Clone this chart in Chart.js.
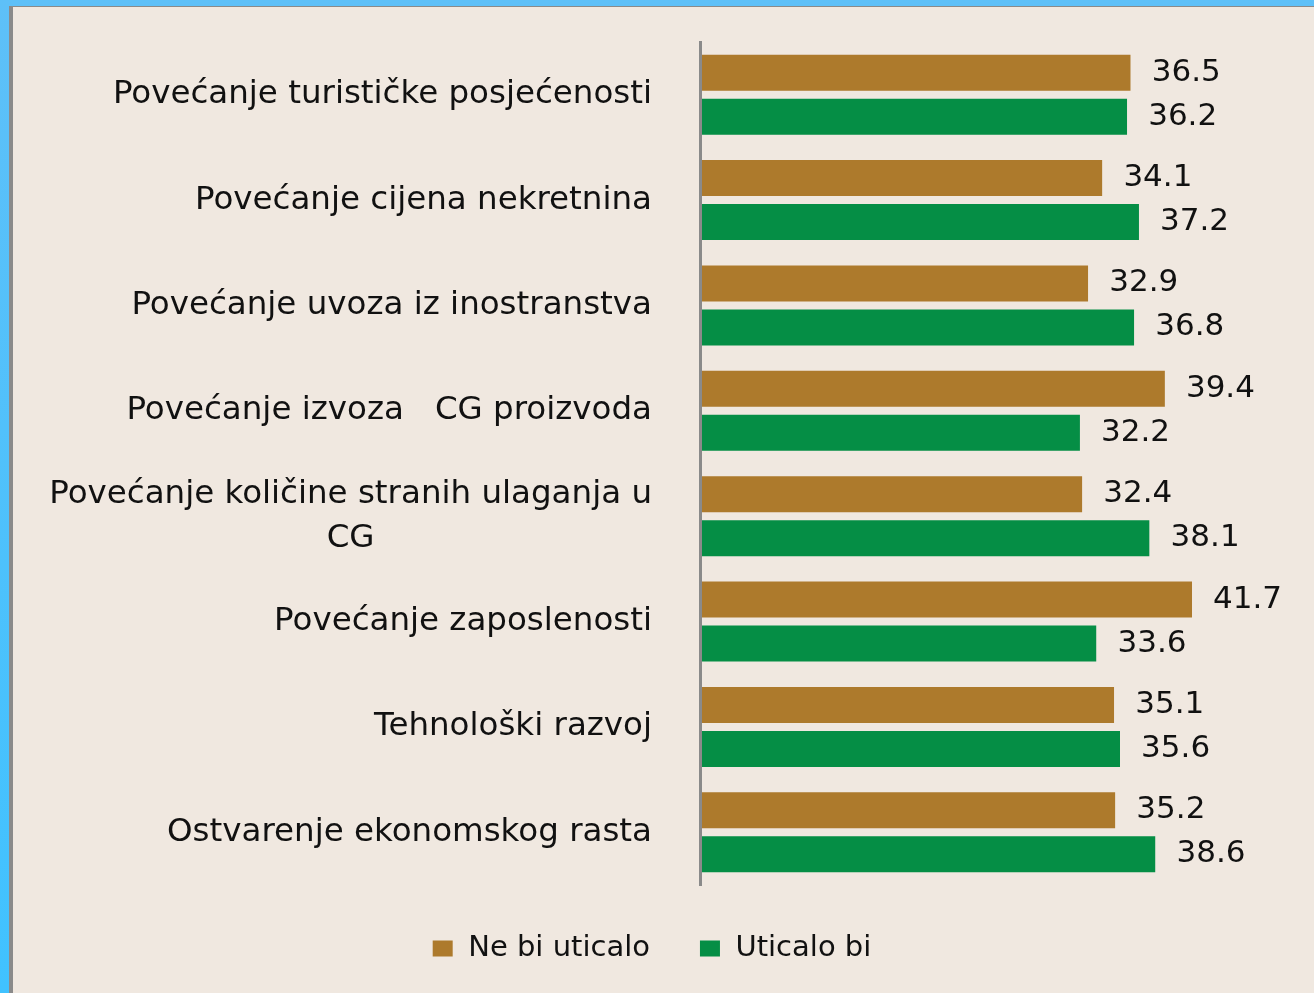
<!DOCTYPE html>
<html>
<head>
<meta charset="utf-8">
<script src="https://cdn.jsdelivr.net/npm/chart.js@4.4.1/dist/chart.umd.min.js"></script>
<style>
  html, body { margin: 0; padding: 0; }
  body {
    width: 1314px; height: 993px; overflow: hidden;
    background: linear-gradient(#5ec0f8, #40c2ff);
  }
  #frame {
    position: absolute; left: 9px; top: 6px; right: 0; bottom: 0;
    border-left: 4px solid #8a8a8a; border-top: 1px solid #8a8a8a;
    background: #f0e8e0;
  }
  #wrap { position: absolute; left: 0; top: 0; width: 1301px; height: 986px; }
</style>
</head>
<body>
<div id="frame"><div id="wrap"><canvas id="chart"></canvas></div></div>
<script>
// categories (top to bottom) and the two series
const categories = [
  'Povećanje turističke posjećenosti',
  'Povećanje cijena nekretnina',
  'Povećanje uvoza iz inostranstva',
  'Povećanje izvoza   CG proizvoda',
  ['Povećanje količine stranih ulaganja u', 'CG'],
  'Povećanje zaposlenosti',
  'Tehnološki razvoj',
  'Ostvarenje ekonomskog rasta'
];
const neBiUticalo = [36.5, 34.1, 32.9, 39.4, 32.4, 41.7, 35.1, 35.2];
const uticaloBi   = [36.2, 37.2, 36.8, 32.2, 38.1, 33.6, 35.6, 38.6];
const seriesNames = ['Ne bi uticalo', 'Uticalo bi'];

const BG = '#f0e8e0';
const FONT = "'DejaVu Sans', Verdana, sans-serif";

// category labels: block right-aligned to the axis, lines centred in the block
const categoryLabels = {
  id: 'categoryLabels',
  afterDraw(chart) {
    const ctx = chart.ctx;
    const y = chart.scales.y;
    const right = chart.chartArea.left - 48;
    ctx.save();
    ctx.font = '32.5px ' + FONT;
    ctx.fillStyle = '#111';
    ctx.textAlign = 'center';
    ctx.textBaseline = 'middle';
    categories.forEach((lab, i) => {
      const lines = Array.isArray(lab) ? lab : [lab];
      const w = Math.max(...lines.map(l => ctx.measureText(l).width));
      const cx = right - w / 2;
      const lh = 44;
      const y0 = y.getPixelForTick(i) - (lines.length - 1) * lh / 2;
      lines.forEach((l, k) => ctx.fillText(l, cx, y0 + k * lh));
    });
    ctx.restore();
  }
};

// value labels at the end of each bar
const valueLabels = {
  id: 'valueLabels',
  afterDatasetsDraw(chart) {
    const ctx = chart.ctx;
    ctx.save();
    ctx.font = '31px ' + FONT;
    ctx.fillStyle = '#111';
    ctx.textAlign = 'left';
    ctx.textBaseline = 'middle';
    chart.data.datasets.forEach((ds, di) => {
      chart.getDatasetMeta(di).data.forEach((bar, i) => {
        ctx.fillText(ds.data[i].toFixed(1), bar.x + 21, bar.y);
      });
    });
    ctx.restore();
  }
};

const barStyle = {
  borderColor: BG,
  borderWidth: { top: 4, bottom: 4, left: 0, right: 0 },
  borderSkipped: false,
  categoryPercentage: 0.835,
  barPercentage: 1.0
};

new Chart(document.getElementById('chart'), {
  type: 'bar',
  data: {
    labels: categories,
    datasets: [
      Object.assign({ label: seriesNames[0], data: neBiUticalo, backgroundColor: '#ad7a2c' }, barStyle),
      Object.assign({ label: seriesNames[1], data: uticaloBi, backgroundColor: '#058e45' }, barStyle)
    ]
  },
  options: {
    indexAxis: 'y',
    responsive: true,
    maintainAspectRatio: false,
    animation: false,
    layout: { padding: { left: 0, top: 35, right: 24, bottom: 20 } },
    plugins: {
      legend: {
        position: 'bottom',
        labels: {
          boxWidth: 22,
          boxHeight: 18,
          padding: 49,
          color: '#111',
          font: { family: FONT, size: 29 }
        }
      },
      tooltip: { enabled: false }
    },
    scales: {
      x: { display: false, min: 0, max: 50 },
      y: {
        ticks: { display: false },
        grid: { display: false, drawTicks: false },
        border: { display: true, color: '#8a8a8a', width: 3, z: 1 },
        afterFit: (scale) => { scale.width = 687; }
      }
    }
  },
  plugins: [categoryLabels, valueLabels]
});
</script>
</body>
</html>
